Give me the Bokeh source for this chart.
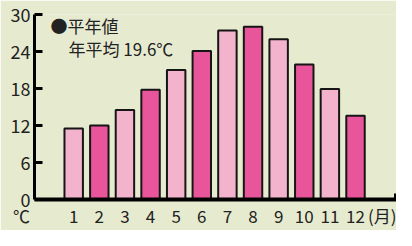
from bokeh.plotting import figure
from bokeh.models import FixedTicker, Label, Range1d
from bokeh.embed import file_html
from bokeh.resources import INLINE

months = [1, 2, 3, 4, 5, 6, 7, 8, 9, 10, 11, 12]
temps = [11.5, 12.0, 14.5, 17.8, 21.0, 24.1, 27.4, 28.0, 26.0, 21.9, 17.9, 13.6]
colors = ["#f4b3cd" if m % 2 == 1 else "#e8559a" for m in months]
y_ticks = [0, 6, 12, 18, 24, 30]
month_unit_pos = 13.3
month_unit_label = "(月)"
legend_title = "●平年値"
legend_avg = "年平均 19.6℃"
y_unit = "℃"
y_unit_pos = -0.52

FONT = "Noto Sans CJK JP"
BG = "#e6ebd0"

p = figure(width=396, height=230, output_backend="svg", toolbar_location=None,
           x_range=Range1d(-0.53, 13.6), y_range=Range1d(0, 30),
           min_border_left=34, min_border_right=0, min_border_top=14, min_border_bottom=25)

p.vbar(x=months, top=temps, width=0.72, fill_color=colors,
       line_color="#151515", line_width=2)

p.background_fill_color = BG
p.border_fill_color = BG
p.outline_line_color = None
p.grid.visible = False

# y axis
ya = p.yaxis[0]
ya.ticker = FixedTicker(ticks=y_ticks)
ya.major_tick_in = 8
ya.major_tick_out = 0
ya.minor_tick_in = 0
ya.minor_tick_out = 0
ya.major_tick_line_width = 3
ya.major_tick_line_color = "#000000"
ya.axis_line_width = 3
ya.axis_line_color = "#000000"
ya.major_label_text_font = FONT
ya.major_label_text_font_size = "18px"
ya.major_label_text_color = "#222222"
ya.major_label_standoff = 4

# x axis
xa = p.xaxis[0]
xa.ticker = FixedTicker(ticks=[y_unit_pos] + months + [month_unit_pos], minor_ticks=[13.58])
overrides = {m: str(m) for m in months}
overrides[month_unit_pos] = month_unit_label
overrides[y_unit_pos] = y_unit + "\u00a0" * 7
xa.major_label_overrides = overrides
xa.major_tick_in = 0
xa.major_tick_out = 0
xa.minor_tick_in = 6
xa.minor_tick_out = 0
xa.minor_tick_line_width = 3
xa.minor_tick_line_color = "#000000"
xa.axis_line_width = 4
xa.axis_line_color = "#000000"
xa.major_label_text_font = FONT
xa.major_label_text_font_size = "17px"
xa.major_label_text_color = "#222222"
xa.major_label_standoff = 3

p.add_layout(Label(x=16, y=174, x_units="screen", y_units="screen", text=legend_title,
                   text_font=FONT, text_font_size="17px", text_color="#222222",
                   text_baseline="middle"))
p.add_layout(Label(x=34, y=151, x_units="screen", y_units="screen", text=legend_avg,
                   text_font=FONT, text_font_size="17px", text_color="#222222",
                   text_baseline="middle"))

open("out.html", "w").write(file_html(p, INLINE))
